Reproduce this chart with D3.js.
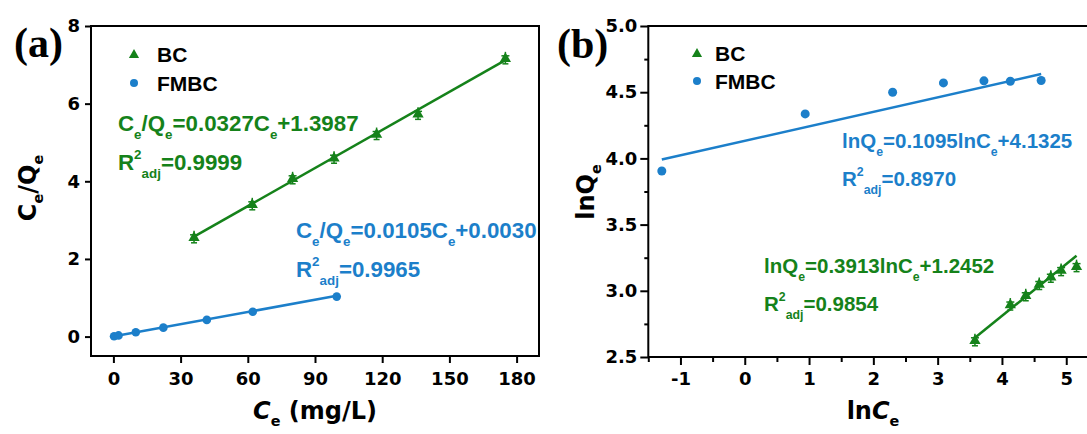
<!DOCTYPE html>
<html>
<head>
<meta charset="utf-8">
<script src="https://cdn.jsdelivr.net/npm/d3@7"></script>
<style>
body { margin: 0; background: #fff; }
text { font-family: "DejaVu Sans", sans-serif; font-weight: bold; }
.ar { font-family: "Liberation Sans", Arial, sans-serif; }
</style>
</head>
<body>
<script>
// panel (a): Langmuir, Ce vs Ce/Qe
var ceBC = [36, 62, 80, 98.5, 117.5, 136, 175];
var ceQeBC = [2.57, 3.42, 4.09, 4.62, 5.23, 5.75, 7.18];
var ceFMBC = [0.3, 2.3, 10, 22.3, 41.7, 62.2, 99.7];
var ceQeFMBC = [0.01, 0.03, 0.11, 0.23, 0.43, 0.64, 1.03];
var fitA_BC = [0.0327, 1.3987], fitA_FMBC = [0.0105, 0.0030];

// panel (b): Freundlich, lnCe vs lnQe
var lnCeBC = [3.58, 4.13, 4.37, 4.58, 4.76, 4.92, 5.16];
var lnQeBC = [2.63, 2.90, 2.97, 3.055, 3.11, 3.16, 3.19];
var lnCeFMBC = [-1.29, 0.94, 2.30, 3.09, 3.72, 4.13, 4.61];
var lnQeFMBC = [3.905, 4.336, 4.50, 4.57, 4.586, 4.583, 4.588];
var fitB_BC = [0.3913, 1.2452], fitB_FMBC = [0.1095, 4.1325];

var ticksAX = [0, 30, 60, 90, 120, 150, 180], ticksAY = [0, 2, 4, 6, 8];
var ticksBX = [-1, 0, 1, 2, 3, 4, 5], ticksBY = [2.5, 3.0, 3.5, 4.0, 4.5, 5.0];

var W = 1087, H = 434;
var green = "#15821a", blue = "#1c7fca";

var svg = d3.select("body").append("svg").attr("width", W).attr("height", H);

// text with sub/superscripts: parts = [[str, mode]], mode: n, sub, sup, i
function rich(g, x, y, parts, size, color, rotate, subK) {
  var k = subK || 0.38;
  var t = g.append("text").attr("fill", color).attr("font-size", size);
  if (rotate) t.attr("transform", "translate(" + x + "," + y + ") rotate(-90)").attr("text-anchor", "middle");
  else t.attr("x", x).attr("y", y);
  var off = 0;
  parts.forEach(function (p) {
    var s = t.append("tspan").text(p[0]);
    var target = 0;
    if (p[1] == "sub") { target = k * size; s.attr("font-size", size * 0.6); }
    else if (p[1] == "sup") { target = -0.5 * size; s.attr("font-size", size * 0.6); }
    else if (p[1] == "i") s.attr("font-style", "italic");
    s.attr("dy", target - off);
    off = target;
  });
  return t;
}

function triMark(g, x, y, c) {
  g.append("line").attr("x1", x).attr("x2", x).attr("y1", y - 6).attr("y2", y + 6)
    .attr("stroke", c).attr("stroke-width", 1.5);
  g.append("line").attr("x1", x - 3).attr("x2", x + 3).attr("y1", y + 6).attr("y2", y + 6)
    .attr("stroke", c).attr("stroke-width", 1.5);
  g.append("line").attr("x1", x - 4).attr("x2", x + 4).attr("y1", y - 2).attr("y2", y - 2)
    .attr("stroke", c).attr("stroke-width", 1.5);
  g.append("path").attr("d", d3.symbol().type(d3.symbolTriangle).size(55)())
    .attr("transform", "translate(" + x + "," + (y + 1) + ")").attr("fill", c);
}

function styleAxis(ax, fs) {
  ax.select(".domain").remove();
  ax.selectAll("line").attr("stroke", "#000").attr("stroke-width", 2);
  ax.selectAll("text").attr("font-size", fs).attr("fill", "#000")
    .style("font-family", '"DejaVu Sans", sans-serif').style("font-weight", "bold");
}

/* ---------- panel (a) ---------- */
var xa = d3.scaleLinear().domain([-10, 190]).range([91, 539]);
var ya = d3.scaleLinear().domain([-0.5, 8]).range([356, 26]);
var ga = svg.append("g");

styleAxis(ga.append("g").attr("transform", "translate(0,356)")
  .call(d3.axisBottom(xa).tickValues(ticksAX).tickSize(7).tickPadding(9)), 18);
styleAxis(ga.append("g").attr("transform", "translate(91,0)")
  .call(d3.axisLeft(ya).tickValues(ticksAY).tickSize(6).tickPadding(5)), 18);

ga.append("rect").attr("x", 91).attr("y", 26).attr("width", 448).attr("height", 330)
  .attr("fill", "none").attr("stroke", "#000").attr("stroke-width", 2);

// fit lines
ga.append("line")
  .attr("x1", xa(ceBC[0])).attr("y1", ya(fitA_BC[0] * ceBC[0] + fitA_BC[1]))
  .attr("x2", xa(ceBC[6])).attr("y2", ya(fitA_BC[0] * ceBC[6] + fitA_BC[1]))
  .attr("stroke", green).attr("stroke-width", 2.5);
ga.append("line")
  .attr("x1", xa(ceFMBC[0])).attr("y1", ya(fitA_FMBC[0] * ceFMBC[0] + fitA_FMBC[1]))
  .attr("x2", xa(ceFMBC[6])).attr("y2", ya(fitA_FMBC[0] * ceFMBC[6] + fitA_FMBC[1]))
  .attr("stroke", blue).attr("stroke-width", 2.5);

ceBC.forEach(function (d, i) { triMark(ga, xa(d), ya(ceQeBC[i]), green); });
ga.selectAll(".dotA").data(ceFMBC).enter().append("circle")
  .attr("cx", function (d) { return xa(d); })
  .attr("cy", function (d, i) { return ya(ceQeFMBC[i]); })
  .attr("r", 4.3).attr("fill", blue);

// legend
ga.append("path").attr("d", d3.symbol().type(d3.symbolTriangle).size(45)())
  .attr("transform", "translate(134,55)").attr("fill", green);
ga.append("circle").attr("cx", 134).attr("cy", 83).attr("r", 4).attr("fill", blue);
ga.append("text").attr("class", "ar").attr("x", 157).attr("y", 62).attr("font-size", 21).text("BC");
ga.append("text").attr("class", "ar").attr("x", 157).attr("y", 91).attr("font-size", 21).text("FMBC");

rich(ga, 118, 131, [["C", "n"], ["e", "sub"], ["/Q", "n"], ["e", "sub"], ["=0.0327C", "n"], ["e", "sub"], ["+1.3987", "n"]], 22.3, green).attr("class", "ar");
rich(ga, 118, 170, [["R", "n"], ["2", "sup"], ["adj", "sub"], ["=0.9999", "n"]], 22.3, green).attr("class", "ar");
rich(ga, 296, 238, [["C", "n"], ["e", "sub"], ["/Q", "n"], ["e", "sub"], ["=0.0105C", "n"], ["e", "sub"], ["+0.0030", "n"]], 22.3, blue).attr("class", "ar");
rich(ga, 296, 277, [["R", "n"], ["2", "sup"], ["adj", "sub"], ["=0.9965", "n"]], 22.3, blue).attr("class", "ar");

rich(ga, 315, 419, [["C", "i"], ["e", "sub"], [" (mg/L)", "n"]], 24, "#000", false, 0.3).attr("text-anchor", "middle");
rich(ga, 36, 188, [["C", "n"], ["e", "sub"], ["/Q", "n"], ["e", "sub"]], 24, "#000", true, 0.3);

ga.append("text").attr("x", 14).attr("y", 57).attr("font-size", 42)
  .style("font-family", '"Liberation Serif", "Times New Roman", serif').text("(a)");

/* ---------- panel (b) ---------- */
var xb = d3.scaleLinear().domain([-1.5, 5.5]).range([648.3, 1098.4]);
var yb = d3.scaleLinear().domain([2.5, 5]).range([357, 26]);
var gb = svg.append("g");

styleAxis(gb.append("g").attr("transform", "translate(0,357)")
  .call(d3.axisBottom(xb).tickValues(d3.range(-1.5, 5.6, 1)).tickSize(5).tickFormat("")), 18);
styleAxis(gb.append("g").attr("transform", "translate(0,357)")
  .call(d3.axisBottom(xb).tickValues(ticksBX).tickSize(8).tickPadding(7)
    .tickFormat(function (d) { return String(d); })), 18);
styleAxis(gb.append("g").attr("transform", "translate(648.3,0)")
  .call(d3.axisLeft(yb).tickValues(d3.range(2.75, 5, 0.5)).tickSize(4).tickFormat("")), 18);
styleAxis(gb.append("g").attr("transform", "translate(648.3,0)")
  .call(d3.axisLeft(yb).tickValues(ticksBY).tickSize(8).tickPadding(3).tickFormat(d3.format(".1f"))), 18);

gb.append("rect").attr("x", 648.3).attr("y", 26).attr("width", 450).attr("height", 331)
  .attr("fill", "none").attr("stroke", "#000").attr("stroke-width", 2);

gb.append("line")
  .attr("x1", xb(lnCeFMBC[0])).attr("y1", yb(fitB_FMBC[0] * lnCeFMBC[0] + fitB_FMBC[1]))
  .attr("x2", xb(lnCeFMBC[6])).attr("y2", yb(fitB_FMBC[0] * lnCeFMBC[6] + fitB_FMBC[1]))
  .attr("stroke", blue).attr("stroke-width", 2.5);
gb.append("line")
  .attr("x1", xb(lnCeBC[0])).attr("y1", yb(fitB_BC[0] * lnCeBC[0] + fitB_BC[1]))
  .attr("x2", xb(lnCeBC[6])).attr("y2", yb(fitB_BC[0] * lnCeBC[6] + fitB_BC[1]))
  .attr("stroke", green).attr("stroke-width", 2.5);

lnCeBC.forEach(function (d, i) { triMark(gb, xb(d), yb(lnQeBC[i]), green); });
gb.selectAll(".dotB").data(lnCeFMBC).enter().append("circle")
  .attr("cx", function (d) { return xb(d); })
  .attr("cy", function (d, i) { return yb(lnQeFMBC[i]); })
  .attr("r", 4.5).attr("fill", blue);

gb.append("path").attr("d", d3.symbol().type(d3.symbolTriangle).size(45)())
  .attr("transform", "translate(697,54)").attr("fill", green);
gb.append("circle").attr("cx", 697).attr("cy", 81).attr("r", 4).attr("fill", blue);
gb.append("text").attr("class", "ar").attr("x", 715).attr("y", 61).attr("font-size", 21).text("BC");
gb.append("text").attr("class", "ar").attr("x", 715).attr("y", 89).attr("font-size", 21).text("FMBC");

rich(gb, 842, 148, [["lnQ", "n"], ["e", "sub"], ["=0.1095lnC", "n"], ["e", "sub"], ["+4.1325", "n"]], 20.5, blue).attr("class", "ar");
rich(gb, 842, 186, [["R", "n"], ["2", "sup"], ["adj", "sub"], ["=0.8970", "n"]], 20.5, blue).attr("class", "ar");
rich(gb, 764, 273, [["lnQ", "n"], ["e", "sub"], ["=0.3913lnC", "n"], ["e", "sub"], ["+1.2452", "n"]], 20.5, green).attr("class", "ar");
rich(gb, 764, 311, [["R", "n"], ["2", "sup"], ["adj", "sub"], ["=0.9854", "n"]], 20.5, green).attr("class", "ar");

rich(gb, 873, 419, [["ln", "n"], ["C", "i"], ["e", "sub"]], 24, "#000", false, 0.3).attr("text-anchor", "middle");
rich(gb, 594, 192, [["lnQ", "n"], ["e", "sub"]], 24, "#000", true, 0.3);

gb.append("text").attr("x", 557).attr("y", 58).attr("font-size", 42)
  .style("font-family", '"Liberation Serif", "Times New Roman", serif').text("(b)");
</script>
</body>
</html>
